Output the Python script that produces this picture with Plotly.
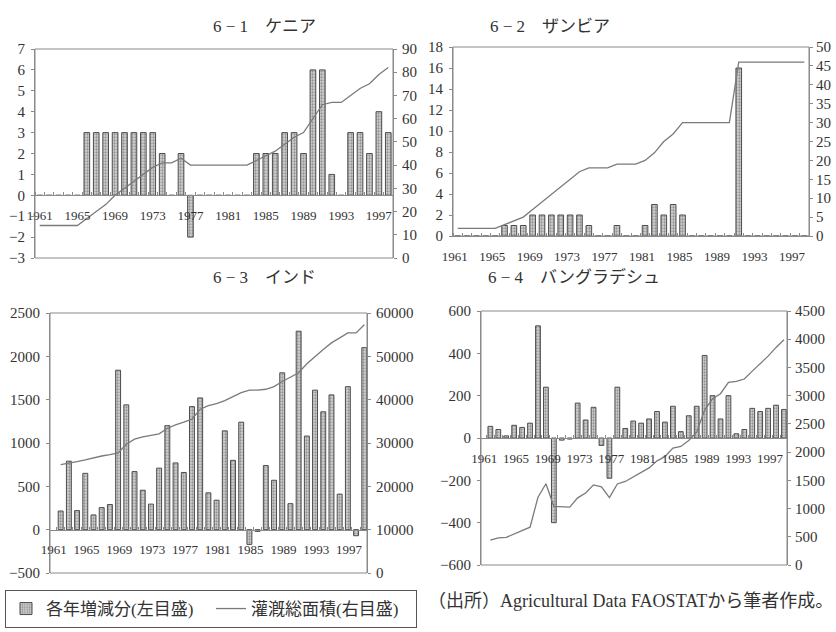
import plotly.graph_objects as go

# ---------------- data ----------------
years = [1961, 1962, 1963, 1964, 1965, 1966, 1967, 1968, 1969, 1970,
         1971, 1972, 1973, 1974, 1975, 1976, 1977, 1978, 1979, 1980,
         1981, 1982, 1983, 1984, 1985, 1986, 1987, 1988, 1989, 1990,
         1991, 1992, 1993, 1994, 1995, 1996, 1997, 1998]
year_ticks = [1961, 1965, 1969, 1973, 1977, 1981, 1985, 1989, 1993, 1997]

titles = ["6 − 1　ケニア", "6 − 2　ザンビア", "6 − 3　インド", "6 − 4　バングラデシュ"]

kenya_change = [0, 0, 0, 0, 0, 3, 3, 3, 3, 3,
                3, 3, 3, 2, 0, 2, -2, 0, 0, 0,
                0, 0, 0, 2, 2, 2, 3, 3, 2, 6,
                6, 1, 0, 3, 3, 2, 4, 3]
kenya_total = [14, 14, 14, 14, 14, 17, 20, 23, 27, 30,
               33, 36, 39, 41, 41, 43, 40, 40, 40, 40,
               40, 40, 40, 42, 44, 46, 49, 52, 54, 60,
               66, 67, 67, 70, 73, 75, 79, 82]

zambia_change = [0, 0, 0, 0, 0, 1, 1, 1, 2, 2,
                 2, 2, 2, 2, 1, 0, 0, 1, 0, 0,
                 1, 3, 2, 3, 2, 0, 0, 0, 0, 0,
                 16, 0, 0, 0, 0, 0, 0, 0]
zambia_total = [2, 2, 2, 2, 2, 3, 4, 5, 7, 9,
                11, 13, 15, 17, 18, 18, 18, 19, 19, 19,
                20, 22, 25, 27, 30, 30, 30, 30, 30, 30,
                46, 46, 46, 46, 46, 46, 46, 46]

india_change = [215, 790, 220, 650, 170, 255, 290, 1840, 1440, 670,
                455, 295, 710, 1200, 770, 660, 1420, 1520, 425, 340,
                1140, 800, 1240, -170, -20, 740, 570, 1810, 300, 2290,
                1080, 1610, 1360, 1555, 410, 1650, -70, 2100]
india_total = [25000, 25300, 25700, 26100, 26600, 27000, 27300, 27700, 29700, 30900,
               31400, 31700, 32100, 33400, 34200, 34800, 35500, 37800, 38600, 39100,
               39800, 40700, 41600, 42200, 42200, 42400, 43000, 44200, 45300, 46200,
               48300, 50000, 51600, 53100, 54300, 55400, 55400, 57300]

bangla_change = [55, 40, 10, 60, 50, 70, 530, 240, -400, -10,
                 -5, 165, 85, 145, -35, -190, 240, 45, 80, 70,
                 90, 125, 75, 150, 30, 105, 150, 390, 200, 90,
                 200, 20, 40, 140, 125, 140, 155, 135]
bangla_total = [440, 480, 490, 550, 600, 670, 1200, 1440, 1040, 1030,
                1025, 1190, 1275, 1420, 1385, 1195, 1435, 1480, 1560, 1630,
                1720, 1845, 1920, 2070, 2100, 2205, 2355, 2745, 2945, 3035,
                3235, 3255, 3295, 3435, 3560, 3700, 3855, 3990]

left_ranges = [(-3, 7, 1), (0, 18, 2), (-500, 2500, 500), (-600, 600, 200)]
right_ranges = [(0, 90, 10), (0, 50, 5), (0, 60000, 10000), (0, 4500, 500)]

legend_bar = "各年増減分(左目盛)"
legend_line = "灌漑総面積(右目盛)"
source_text = "（出所）Agricultural Data FAOSTATから筆者作成。"

# ---------------- layout geometry (pixels in 836x632) ----------------
W, H = 836, 632
FONT = "Liberation Serif, Noto Sans CJK JP, serif"
AX = "#8a8a8a"
TXT = "#333333"

# plot boxes: (x_left, x_right, y_top, y_bottom) in px
boxes = [(35, 393, 49, 258), (453, 809, 47, 236), (50, 367, 313, 573), (481, 787, 311, 565)]
xranges = [(1960.5, 1998.5), (1960.5, 1998.5), (1959.7, 1998.33), (1959.82, 1998.38)]
label_shift = [0, -3, -7, -6]
right_standoff = [2, 0, 2, 1]
title_pos = [(211, 15), (612, 15), (211, 277), (662, 277)]

changes = [kenya_change, zambia_change, india_change, bangla_change]
totals = [kenya_total, zambia_total, india_total, bangla_total]

fig = go.Figure()
layout = dict(width=W, height=H, margin=dict(l=0, r=0, t=0, b=0, autoexpand=False),
              paper_bgcolor="white", plot_bgcolor="white",
              font=dict(family=FONT, color=TXT, size=14),
              barmode="overlay", showlegend=True, shapes=[], annotations=[])

for i in range(4):
    n = i + 1
    xa = "x" if n == 1 else f"x{n}"
    ya = "y" if n == 1 else f"y{n}"
    yr = f"y{n + 4}"
    xl, xr, yt, yb = boxes[i]
    dx = [xl / W, xr / W]
    dy = [1 - yb / H, 1 - yt / H]
    lo, hi, dt = left_ranges[i]
    rlo, rhi, rdt = right_ranges[i]

    fig.add_trace(go.Bar(
        x=years, y=changes[i], xaxis=xa, yaxis=ya, width=0.6,
        name=legend_bar, showlegend=(i == 0), legendgroup="bar",
        marker=dict(color="#d2d2d2", line=dict(color="#4d4d4d", width=1),
                    pattern=dict(shape=".", fgcolor="#555555", size=3, solidity=0.45)),
    ))
    fig.add_trace(go.Scatter(
        x=years, y=totals[i], xaxis=xa, yaxis=yr, mode="lines",
        name=legend_line, showlegend=(i == 0), legendgroup="line",
        line=dict(color="#7a7a7a", width=1.3),
    ))

    # x axis crossing at y = 0
    zero_pos = dy[0] + (0 - lo) / (hi - lo) * (dy[1] - dy[0])
    xdict = dict(domain=dx, range=list(xranges[i]), showgrid=False, zeroline=False,
                 tickmode="array", tickvals=year_ticks, ticks="",
                 showline=True, linecolor=AX, linewidth=1,
                 tickfont=dict(size=13, family=FONT, color=TXT),
                 ticklabelstandoff=8, ticklabelshift=label_shift[i],
                 minor=dict(tickmode="linear", tick0=1960.5, dtick=1, ticks="inside",
                            ticklen=3, tickcolor=AX, showgrid=False))
    if lo < 0:
        xdict.update(anchor="free", position=zero_pos)
    else:
        xdict.update(anchor=ya)
    layout["xaxis" if n == 1 else f"xaxis{n}"] = xdict

    layout["yaxis" if n == 1 else f"yaxis{n}"] = dict(
        domain=dy, anchor=xa, range=[lo, hi], dtick=dt, tick0=lo, tickmode="linear",
        showgrid=False, zeroline=False, showline=True, linecolor=AX,
        ticks="outside", ticklen=3, tickcolor=AX, tickformat="d", ticklabelstandoff=3,
        tickfont=dict(size=15, family=FONT, color=TXT))
    layout[f"yaxis{n + 4}"] = dict(
        overlaying=ya, anchor=xa, side="right", range=[rlo, rhi], dtick=rdt, tick0=rlo,
        tickmode="linear", showgrid=False, zeroline=False, showline=True, linecolor=AX,
        ticks="outside", ticklen=3, tickcolor=AX, tickformat="d",
        ticklabelstandoff=right_standoff[i],
        tickfont=dict(size=15, family=FONT, color=TXT))

    layout["shapes"].append(dict(type="rect", xref=f"{xa} domain", yref=f"{ya} domain",
                                 x0=0, x1=1, y0=0, y1=1, line=dict(color=AX, width=1),
                                 fillcolor="rgba(0,0,0,0)", layer="above"))
    tx, ty = title_pos[i]
    layout["annotations"].append(dict(text=titles[i], x=tx / W, y=1 - ty / H, xref="paper",
                                      yref="paper", showarrow=False,
                                      font=dict(size=17, family=FONT, color=TXT)))

layout["annotations"].append(dict(text=source_text, x=426 / W, y=1 - 613 / H, xref="paper",
                                  yref="paper", xanchor="left", showarrow=False,
                                  font=dict(size=18, family=FONT, color=TXT)))
layout["legend"] = dict(orientation="h", x=5 / W, y=1 - 628 / H, xanchor="left", yanchor="bottom",
                        bordercolor="#555555", borderwidth=1, bgcolor="white",
                        font=dict(size=17, family=FONT, color=TXT),
                        itemwidth=30, entrywidth=160, entrywidthmode="pixels",
                        traceorder="normal")

fig.update_layout(**layout)
fig.write_html("out.html", config={"displayModeBar": False},
               post_script="document.body.style.margin='0';")
